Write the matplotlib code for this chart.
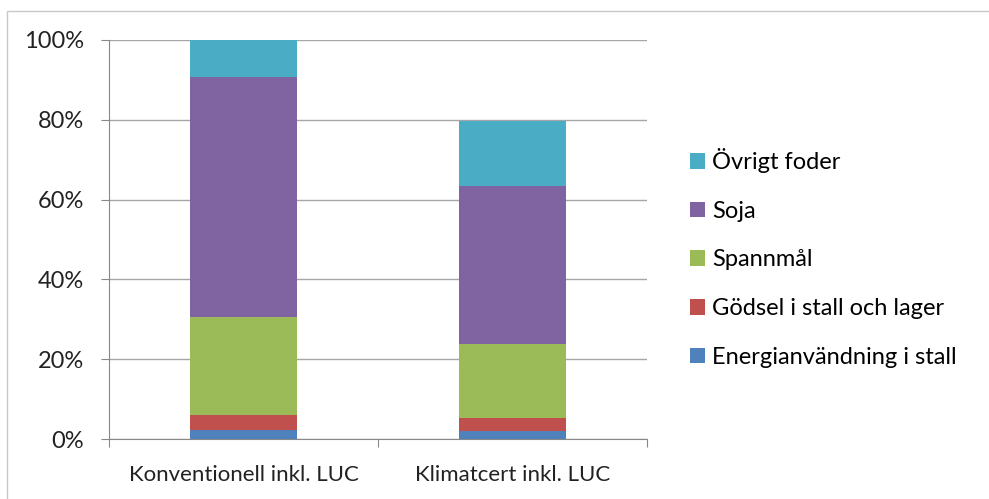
import matplotlib.pyplot as plt
import numpy as np
from matplotlib.patches import Rectangle

plt.rcParams['font.family'] = ['Lato', 'DejaVu Sans']

# Categories and stacked shares (%)
categories = ['Konventionell inkl. LUC', 'Klimatcert inkl. LUC']
series_names = ['Energianvändning i stall', 'Gödsel i stall och lager',
                'Spannmål', 'Soja', 'Övrigt foder']
energi = [2.3, 1.9]
godsel = [3.6, 3.4]
spannmal = [24.7, 18.6]
soja = [60.2, 39.6]
ovrigt = [9.2, 16.3]

colors = ['#4F81BD', '#C0504D', '#9BBB59', '#8064A2', '#4BACC6']

fig = plt.figure(figsize=(9.89, 4.99), dpi=100)
W, H = 989, 499
ax = fig.add_axes([109 / W, (H - 439) / H, (647 - 109) / W, (439 - 40) / H])

# light chart border (top / left)
fig.patches.append(Rectangle((7 / W, -0.1), 1.2, (H - 11) / H + 0.1,
                             transform=fig.transFigure, fill=False,
                             edgecolor='#c8c8c8', linewidth=1.0, zorder=0))

x = np.arange(len(categories))
bottom = np.zeros(len(categories))
handles = []
for vals, name, c in zip([energi, godsel, spannmal, soja, ovrigt], series_names, colors):
    b = ax.bar(x, vals, width=0.4, bottom=bottom, color=c, label=name, zorder=3)
    handles.append(b)
    bottom += np.array(vals)

ax.set_xlim(-0.5, 1.5)
ax.set_ylim(0, 100)
ax.set_yticks(range(0, 101, 20))
ax.set_yticklabels([f'{v}%' for v in range(0, 101, 20)], fontsize=17, color='#222222')
ax.set_xticks([-0.5, 0.5, 1.5], minor=False)
ax.set_xticklabels([])
ax.set_xticks(x, minor=True)
ax.set_xticklabels(categories, minor=True, fontsize=16, color='#222222')
ax.tick_params(axis='x', which='minor', length=0, pad=19)
ax.tick_params(axis='x', which='major', length=6, color='#888888', direction='out')
ax.tick_params(axis='y', length=6, color='#888888', direction='out', pad=12)

ax.yaxis.grid(True, color='#a6a6a6', linewidth=1.0, zorder=0)
for s in ['top', 'right']:
    ax.spines[s].set_visible(False)
ax.spines['left'].set_color('#888888')
ax.spines['bottom'].set_color('#888888')

fig.legend(handles[::-1], series_names[::-1], loc='center left',
           bbox_to_anchor=(678 / W, (H - 258) / H), frameon=False,
           fontsize=17, handlelength=0.64, handleheight=0.64,
           handletextpad=0.3, labelspacing=1.17, borderpad=0)

fig.savefig('out.png', dpi=100, facecolor='white')
